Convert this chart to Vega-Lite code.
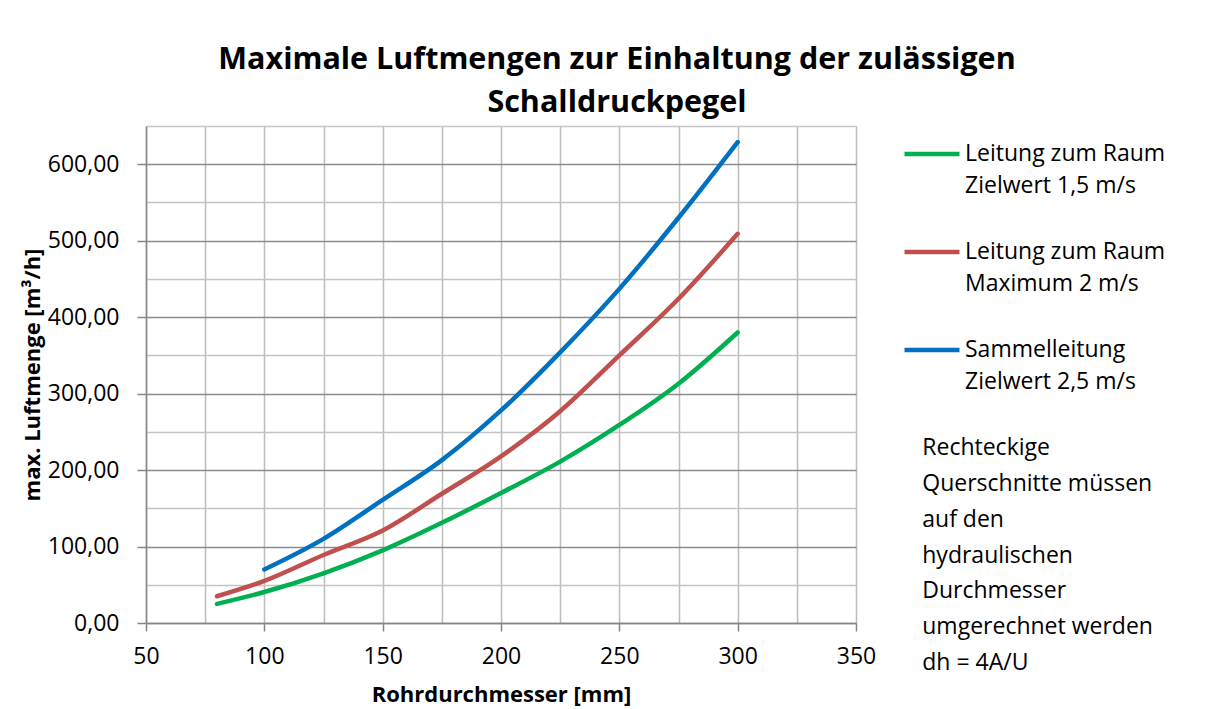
{
  "$schema": "https://vega.github.io/schema/vega-lite/v6.json",
  "width": 710,
  "height": 497,
  "autosize": {"type": "none"},
  "padding": {"left": 146, "top": 126, "right": 359, "bottom": 86},
  "background": "white",
  "config": {
    "font": "Open Sans",
    "view": {"stroke": null},
    "style": {"guide-label": {"lineHeight": 32}}
  },
  "title": {
    "text": ["Maximale Luftmengen zur Einhaltung der zulässigen", "Schalldruckpegel"],
    "font": "Open Sans",
    "fontSize": 30.5,
    "fontWeight": "bold",
    "color": "black",
    "lineHeight": 43,
    "anchor": "middle",
    "frame": "group",
    "dx": 116,
    "offset": -3
  },
  "resolve": {"axis": {"x": "independent", "y": "independent"}},
  "layer": [
    {
      "data": {
        "values": [
          {"d": 80, "q": 25, "s": "Leitung zum Raum|Zielwert 1,5 m/s"},
          {"d": 100, "q": 40.5, "s": "Leitung zum Raum|Zielwert 1,5 m/s"},
          {"d": 125, "q": 65, "s": "Leitung zum Raum|Zielwert 1,5 m/s"},
          {"d": 150, "q": 95, "s": "Leitung zum Raum|Zielwert 1,5 m/s"},
          {"d": 175, "q": 131, "s": "Leitung zum Raum|Zielwert 1,5 m/s"},
          {"d": 200, "q": 170, "s": "Leitung zum Raum|Zielwert 1,5 m/s"},
          {"d": 225, "q": 211, "s": "Leitung zum Raum|Zielwert 1,5 m/s"},
          {"d": 250, "q": 259, "s": "Leitung zum Raum|Zielwert 1,5 m/s"},
          {"d": 275, "q": 313, "s": "Leitung zum Raum|Zielwert 1,5 m/s"},
          {"d": 300, "q": 380, "s": "Leitung zum Raum|Zielwert 1,5 m/s"},
          {"d": 80, "q": 35, "s": "Leitung zum Raum|Maximum 2 m/s"},
          {"d": 100, "q": 55, "s": "Leitung zum Raum|Maximum 2 m/s"},
          {"d": 125, "q": 89, "s": "Leitung zum Raum|Maximum 2 m/s"},
          {"d": 150, "q": 121, "s": "Leitung zum Raum|Maximum 2 m/s"},
          {"d": 175, "q": 169, "s": "Leitung zum Raum|Maximum 2 m/s"},
          {"d": 200, "q": 218, "s": "Leitung zum Raum|Maximum 2 m/s"},
          {"d": 225, "q": 277, "s": "Leitung zum Raum|Maximum 2 m/s"},
          {"d": 250, "q": 350, "s": "Leitung zum Raum|Maximum 2 m/s"},
          {"d": 275, "q": 424, "s": "Leitung zum Raum|Maximum 2 m/s"},
          {"d": 300, "q": 509, "s": "Leitung zum Raum|Maximum 2 m/s"},
          {"d": 100, "q": 70, "s": "Sammelleitung|Zielwert 2,5 m/s"},
          {"d": 125, "q": 110, "s": "Sammelleitung|Zielwert 2,5 m/s"},
          {"d": 150, "q": 161, "s": "Sammelleitung|Zielwert 2,5 m/s"},
          {"d": 175, "q": 213, "s": "Sammelleitung|Zielwert 2,5 m/s"},
          {"d": 200, "q": 278, "s": "Sammelleitung|Zielwert 2,5 m/s"},
          {"d": 225, "q": 354, "s": "Sammelleitung|Zielwert 2,5 m/s"},
          {"d": 250, "q": 437, "s": "Sammelleitung|Zielwert 2,5 m/s"},
          {"d": 275, "q": 530, "s": "Sammelleitung|Zielwert 2,5 m/s"},
          {"d": 300, "q": 629, "s": "Sammelleitung|Zielwert 2,5 m/s"}
        ]
      },
      "mark": {"type": "line", "interpolate": "monotone", "strokeWidth": 4.5, "strokeCap": "round", "strokeJoin": "round", "clip": false},
      "encoding": {
        "x": {
          "field": "d",
          "type": "quantitative",
          "scale": {"domain": [50, 350], "nice": false, "zero": false},
          "axis": {
            "title": "Rohrdurchmesser [mm]",
            "titleFont": "Open Sans",
            "titleFontSize": 22,
            "titleFontWeight": "bold",
            "titleColor": "black",
            "titlePadding": 16,
            "values": [50, 75, 100, 125, 150, 175, 200, 225, 250, 275, 300, 325, 350],
            "labelExpr": "datum.value % 50 === 0 ? format(datum.value, 'd') : ''",
            "labelFontSize": 23,
            "labelColor": "black",
            "labelPadding": 14,
            "labelFlush": false,
            "labelOverlap": false,
            "tickSize": 8,
            "tickColor": "#868686",
            "tickWidth": 1.5,
            "tickOpacity": {"condition": {"test": "datum.value % 50 === 0", "value": 1}, "value": 0},
            "domainColor": "#868686",
            "domainWidth": 1.5,
            "grid": true,
            "gridColor": "#bcbcbc",
            "gridWidth": 1.5
          }
        },
        "y": {
          "field": "q",
          "type": "quantitative",
          "scale": {"domain": [0, 650], "nice": false},
          "axis": {
            "title": "max. Luftmenge [m³/h]",
            "titleFont": "Open Sans",
            "titleFontSize": 22,
            "titleFontWeight": "bold",
            "titleColor": "black",
            "titlePadding": 3,
            "values": [0, 50, 100, 150, 200, 250, 300, 350, 400, 450, 500, 550, 600, 650],
            "labelExpr": "datum.value % 100 === 0 ? replace(format(datum.value, '.2f'), '.', ',') : ''",
            "labelFontSize": 23,
            "labelColor": "black",
            "labelPadding": 18,
            "labelFlush": false,
            "labelOverlap": false,
            "tickSize": 9,
            "tickColor": "#868686",
            "tickWidth": 1.5,
            "tickOpacity": {"condition": {"test": "datum.value % 100 === 0", "value": 1}, "value": 0},
            "domainColor": "#868686",
            "domainWidth": 1.5,
            "grid": true,
            "gridColor": {"condition": {"test": "datum.value % 100 === 0", "value": "#8c8c8c"}, "value": "#c4c4c4"},
            "gridWidth": 1.5
          }
        },
        "color": {
          "field": "s",
          "type": "nominal",
          "scale": {
            "domain": ["Leitung zum Raum|Zielwert 1,5 m/s", "Leitung zum Raum|Maximum 2 m/s", "Sammelleitung|Zielwert 2,5 m/s"],
            "range": ["#00b050", "#c0504d", "#0070c0"]
          },
          "legend": {
            "orient": "none",
            "legendX": 756,
            "legendY": -2,
            "title": null,
            "padding": 0,
            "symbolType": "stroke",
            "symbolSize": 3025,
            "symbolStrokeWidth": 4.5,
            "labelExpr": "split(datum.label, '|')",
            "labelFontSize": 23,
            "labelColor": "black",
            "labelOffset": 3,
            "labelLimit": 400,
            "rowPadding": 24
          }
        }
      }
    },
    {
      "data": {"values": [{"note": "Rechteckige\nQuerschnitte müssen\nauf den\nhydraulischen\nDurchmesser\numgerechnet werden\ndh = 4A/U"}]},
      "mark": {"type": "text", "lineBreak": "\n", "align": "left", "baseline": "top", "fontSize": 23, "lineHeight": 35.8, "color": "black", "font": "Open Sans"},
      "encoding": {
        "x": {"datum": 378, "axis": null},
        "y": {"datum": 243, "axis": null},
        "text": {"field": "note"}
      }
    }
  ]
}
